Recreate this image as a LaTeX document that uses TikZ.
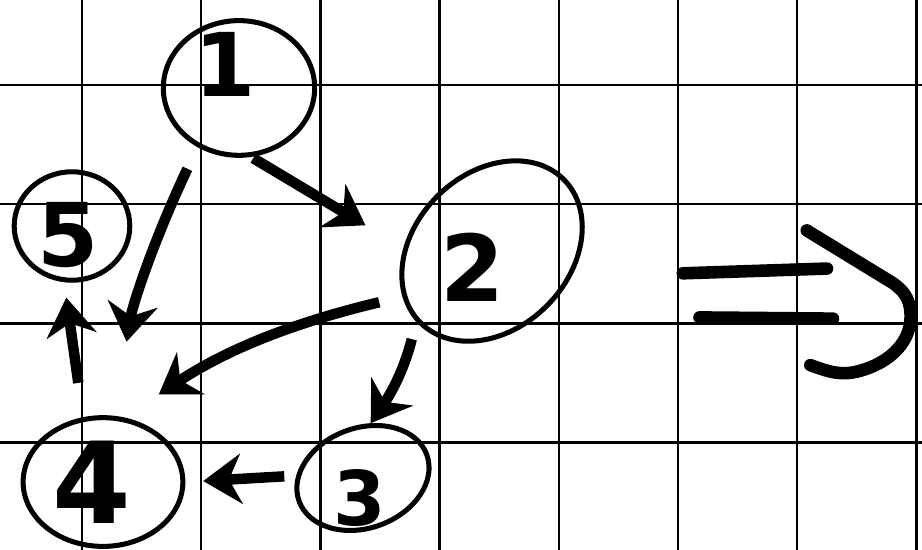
\documentclass[tikz,border=0pt]{standalone}
\usepackage{fontspec}
\usepackage{tikz}
\usetikzlibrary{shapes.geometric, arrows.meta}
\newfontfamily\digitfont{DejaVu Sans}

\begin{document}
\begin{tikzpicture}[
  gridline/.style={draw=black, line width=0.6pt},
  vertex/.style={draw, ellipse, line width=1.2pt, inner sep=0pt},
  num/.style={font=\digitfont\bfseries\fontsize{#1}{#1}\selectfont},
  edge/.style={-{Stealth[length=3.2mm, width=4.2mm]}, line width=2.5pt},
  implies/.style={line width=3pt, line cap=round}
]
  \fill[white] (-0.688,0.713) rectangle (7.047,-3.901);
  \useasboundingbox (-0.688,0.713) rectangle (7.047,-3.901);
  \draw[gridline, step=1] (-0.688,0.713) grid (7.047,-3.901);

  \node[vertex, minimum width=1.27cm, minimum height=1.13cm, label={[num=21pt, xshift=-0.12cm, yshift=0.2cm]center:1}] (n1) at (1.317,-0.025) {};
  \node[vertex, minimum width=0.97cm, minimum height=0.91cm, label={[num=21pt, xshift=-0.03cm, yshift=-0.08cm]center:5}] (n5) at (-0.084,-1.183) {};
  \node[vertex, rotate=45, minimum width=1.70cm, minimum height=1.30cm, label={[num=22pt, xshift=-0.16cm, yshift=-0.14cm]center:2}] (n2) at (3.44,-1.393) {};
  \node[vertex, minimum width=1.34cm, minimum height=1.08cm, label={[num=27pt, xshift=-0.09cm]center:4}] (n4) at (0.176,-3.331) {};
  \node[vertex, rotate=20, minimum width=1.14cm, minimum height=0.84cm, label={[num=18pt, xshift=-0.03cm, yshift=-0.17cm]center:3}] (n3) at (2.357,-3.297) {};

  \draw[edge, shorten <=0.02cm, shorten >=0.37cm] (n1.280) -- (n2.133);
  \draw[edge, shorten <=0.2cm, shorten >=0.63cm] (n1.235) to[bend right=8] (n4.80);
  \draw[edge, shorten <=0.2cm, shorten >=0.35cm] (n2.162) to[bend right=10] (n4.72);
  \draw[edge, shorten <=0.15cm] (n2.178) to[bend left=10] (n3.62);
  \draw[edge, shorten <=0.1cm, shorten >=0.15cm] (n3.158) -- (n4.east);
  \draw[edge, shorten <=0.29cm, shorten >=0.13cm] (n4.107) -- (n5.262);

  % implies sign on the right
  \draw[implies] (5.04,-1.58) -- (6.25,-1.54);
  \draw[implies] (5.18,-1.95) -- (6.30,-1.96);
  \draw[implies] (6.08,-1.22) -- (6.80,-1.66) to[out=-35, in=95] (6.95,-1.90) to[out=-85, in=15] (6.52,-2.40) to[out=195, in=-20] (6.11,-2.35);
\end{tikzpicture}
\end{document}
